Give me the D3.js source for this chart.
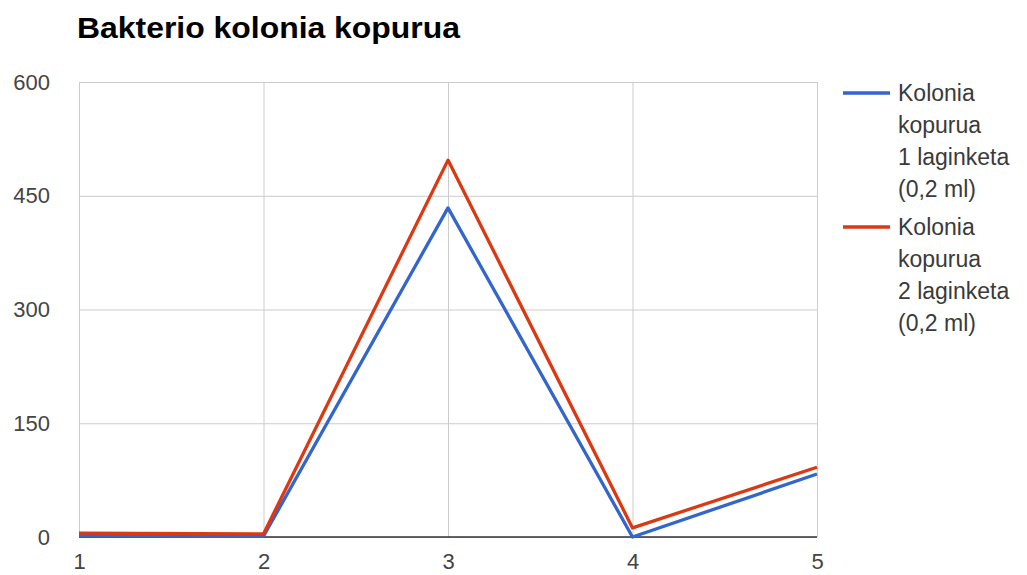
<!DOCTYPE html>
<html>
<head>
<meta charset="utf-8">
<script src="https://cdn.jsdelivr.net/npm/d3@7"></script>
<style>
  html, body { margin: 0; padding: 0; background: #fff; }
  svg { display: block; font-family: "Liberation Sans", Arial, sans-serif; }
</style>
</head>
<body>
<svg id="chart" width="1027" height="575"></svg>
<script>
// Sample numbers (x axis) and colony counts per dilution series
const samples = [1, 2, 3, 4, 5];
const series1 = [2, 1, 434, 0, 83];
const series2 = [5, 4, 497, 12, 92];
const seriesNames = [
  ["Kolonia", "kopurua", "1 laginketa", "(0,2 ml)"],
  ["Kolonia", "kopurua", "2 laginketa", "(0,2 ml)"]
];
const seriesColors = ["#3366cc", "#dc3912"];
const yTicks = [0, 150, 300, 450, 600];
const title = "Bakterio kolonia kopurua";

const svg = d3.select("#chart");
const plot = { left: 79, right: 817, top: 82, bottom: 537 };
const labelFont = "Liberation Sans, Arial, sans-serif";

const x = d3.scaleLinear().domain([1, 5]).range([plot.left, plot.right]);
const y = d3.scaleLinear().domain([0, 600]).range([plot.bottom, plot.top]);

// Title
svg.append("text")
  .attr("x", 77).attr("y", 38)
  .attr("font-size", 30).attr("font-weight", "bold").attr("fill", "#000")
  .attr("textLength", 383).attr("lengthAdjust", "spacingAndGlyphs")
  .text(title);

// Horizontal gridlines + y labels
const yAxis = d3.axisLeft(y).tickValues(yTicks).tickSize(-(plot.right - plot.left)).tickPadding(29);
const gy = svg.append("g").attr("transform", `translate(${plot.left},0)`).call(yAxis);
gy.select(".domain").remove();
gy.selectAll(".tick line").attr("stroke", "#cccccc");
gy.selectAll(".tick text").attr("font-size", 22).attr("fill", "#444").attr("font-family", labelFont);

// Vertical gridlines + x labels
const xAxis = d3.axisBottom(x).tickValues(samples).tickFormat(d3.format("d"))
  .tickSize(-(plot.bottom - plot.top)).tickPadding(16);
const gx = svg.append("g").attr("transform", `translate(0,${plot.bottom})`).call(xAxis);
gx.select(".domain").remove();
gx.selectAll(".tick line").attr("stroke", "#cccccc");
gx.selectAll(".tick text").attr("font-size", 22).attr("fill", "#444").attr("font-family", labelFont);

// Baseline at zero
svg.append("line")
  .attr("x1", plot.left).attr("x2", plot.right)
  .attr("y1", y(0)).attr("y2", y(0))
  .attr("stroke", "#333").attr("stroke-width", 1.5);

// Series lines
const line = d3.line().x((d, i) => x(samples[i])).y(d => y(d));
[series1, series2].forEach((s, k) => {
  svg.append("path")
    .datum(s)
    .attr("d", line)
    .attr("fill", "none")
    .attr("stroke", seriesColors[k])
    .attr("stroke-width", 3.3)
    .attr("stroke-linejoin", "round");
});

// Legend
const legendTop = [93, 227];
seriesNames.forEach((lines, k) => {
  const g = svg.append("g");
  g.append("line")
    .attr("x1", 843).attr("x2", 890)
    .attr("y1", legendTop[k]).attr("y2", legendTop[k])
    .attr("stroke", seriesColors[k]).attr("stroke-width", 3.3);
  lines.forEach((t, j) => {
    g.append("text")
      .attr("x", 898).attr("y", legendTop[k] + j * 32)
      .attr("dy", "0.35em")
      .attr("font-size", 23).attr("fill", "#3a3a3a")
      .text(t);
  });
});
</script>
</body>
</html>
